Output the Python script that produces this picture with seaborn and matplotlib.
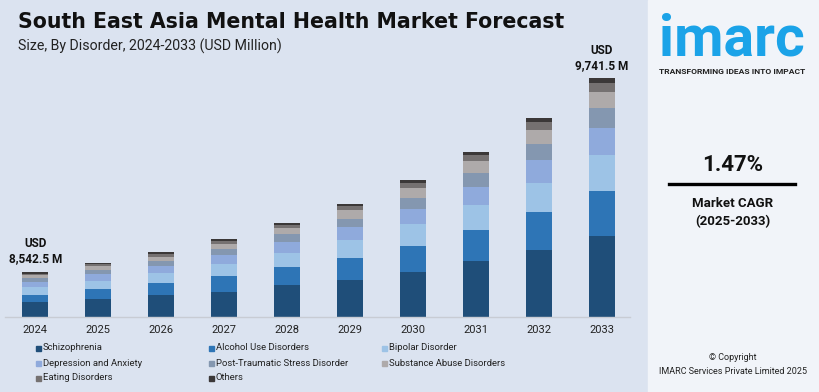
import numpy as np
import pandas as pd
import matplotlib
matplotlib.use("Agg")
import matplotlib.pyplot as plt
import seaborn as sns
from matplotlib.patches import Rectangle

# ───── Data (segment heights, chart units) ─────
years = ["2024", "2025", "2026", "2027", "2028", "2029", "2030", "2031", "2032", "2033"]
segments = ["Schizophrenia", "Alcohol Use Disorders", "Bipolar Disorder",
            "Depression and Anxiety", "Post-Traumatic Stress Disorder",
            "Substance Abuse Disorders", "Eating Disorders", "Others"]

schizophrenia = [14.7, 17.7, 21.7, 25.4, 31.7, 37.4, 45.4, 55.7, 66.7, 80.7]
alcohol       = [7.7, 10.3, 12.0, 15.3, 18.0, 22.0, 26.0, 31.0, 38.0, 45.0]
bipolar       = [7.6, 8.0, 10.0, 12.0, 14.0, 17.3, 21.3, 25.0, 29.3, 36.0]
depression    = [5.0, 7.3, 7.3, 9.3, 11.0, 13.0, 15.0, 18.3, 23.0, 27.3]
ptsd          = [4.0, 3.3, 5.0, 6.0, 8.0, 8.7, 11.7, 13.7, 16.5, 19.7]
substance     = [2.7, 4.0, 4.4, 5.4, 6.3, 8.3, 9.6, 12.0, 14.0, 16.3]
eating        = [1.7, 2.0, 2.6, 2.3, 3.0, 4.3, 5.0, 6.0, 7.5, 9.0]
others        = [1.6, 1.7, 2.0, 2.3, 2.0, 2.0, 2.7, 3.0, 4.0, 5.0]

colors = ["#1f4e79", "#2e75b6", "#9dc3e6", "#8faadc", "#8497b0",
          "#aeaaaa", "#757171", "#3b3838"]

label_first = "USD\n8,542.5 M"
label_last = "USD\n9,741.5 M"
cagr = "1.47%"

df = pd.DataFrame({"year": years})
series = [schizophrenia, alcohol, bipolar, depression, ptsd, substance, eating, others]
cum = np.cumsum(np.array(series), axis=0)

# ───── Figure ─────
BG = "#dbe3f0"
W, H = 819, 392
fig = plt.figure(figsize=(W / 100, H / 100), dpi=100, facecolor=BG)
plt.rcParams["font.family"] = ["Roboto", "DejaVu Sans"]

# right panel
fig.patches.append(Rectangle((648 / W, 0), 1, 1, transform=fig.transFigure,
                             color="#f1f4f9", zorder=0))

ax = fig.add_axes([5 / W, (H - 317) / H, 625 / W, 257 / H])
ax.set_facecolor(BG)

# draw stacked bars back to front
for i in range(len(segments) - 1, -1, -1):
    df["h"] = cum[i]
    sns.barplot(data=df, x="year", y="h", color=colors[i], width=0.41,
                saturation=1, ax=ax, zorder=2)

ax.set_xlim(-0.48, 9.45)
ax.set_ylim(0, 257)
ax.set_xlabel("")
ax.set_ylabel("")
ax.set_yticks([])
for s in ["top", "right", "left"]:
    ax.spines[s].set_visible(False)
ax.spines["bottom"].set_color("#c8ccd4")
ax.spines["bottom"].set_linewidth(1)
ax.tick_params(axis="x", length=0, pad=6, labelsize=8, labelcolor="#222222")

totals = cum[-1]
ax.annotate(label_first, (0, totals[0]), xytext=(0, 5), textcoords="offset points",
            ha="center", va="bottom", fontsize=8.5, fontweight="bold",
            linespacing=1.25, color="#111111")
ax.annotate(label_last, (9, totals[-1]), xytext=(0, 4), textcoords="offset points",
            ha="center", va="bottom", fontsize=8.5, fontweight="bold",
            linespacing=1.25, color="#111111")

# title block
fig.text(18 / W, 1 - 22 / H, "South East Asia Mental Health Market Forecast",
         fontsize=14.8, fontweight="bold", va="center", ha="left", color="#111111",
         family="DejaVu Sans")
fig.text(18 / W, 1 - 46 / H, "Size, By Disorder, 2024-2033 (USD Million)",
         fontsize=10.2, va="center", ha="left", color="#222222")

# legend (row-wise, 3 columns)
col_x = [36, 209, 382]
row_y = [348, 363, 378]
for k, name in enumerate(segments):
    r, c = divmod(k, 3)
    x0, y0 = col_x[c], row_y[r]
    fig.patches.append(Rectangle((x0 / W, 1 - (y0 + 2.5) / H), 5 / W, 5 / H,
                                 transform=fig.transFigure, color=colors[k]))
    fig.text((x0 + 7) / W, 1 - y0 / H, name, fontsize=6.8, va="center",
             ha="left", color="#222222")

# right panel text
fig.text(732 / W, 1 - 55 / H, "imarc", fontsize=41, fontweight="bold",
         color="#1ba3e8", ha="center", va="baseline")
fig.text(732 / W, 1 - 71 / H, "TRANSFORMING IDEAS INTO IMPACT", fontsize=6.1,
         fontweight="bold", color="#222222", ha="center", va="center")
fig.text(733 / W, 1 - 165 / H, cagr, fontsize=16, fontweight="bold",
         color="#111111", ha="center", va="center")
fig.lines.append(plt.Line2D([669 / W, 795 / W], [1 - 184 / H, 1 - 184 / H],
                            transform=fig.transFigure, color="black", lw=2.4))
fig.text(733 / W, 1 - 203 / H, "Market CAGR", fontsize=9.5, fontweight="bold",
         color="#111111", ha="center", va="center")
fig.text(733 / W, 1 - 222 / H, "(2025-2033)", fontsize=9.5, fontweight="bold",
         color="#111111", ha="center", va="center")
fig.text(733 / W, 1 - 358 / H, "© Copyright", fontsize=6.5,
         color="#222222", ha="center", va="center")
fig.text(733 / W, 1 - 372 / H, "IMARC Services Private Limited 2025", fontsize=6.5,
         color="#222222", ha="center", va="center")

fig.savefig("out.png", dpi=100, facecolor=BG)
